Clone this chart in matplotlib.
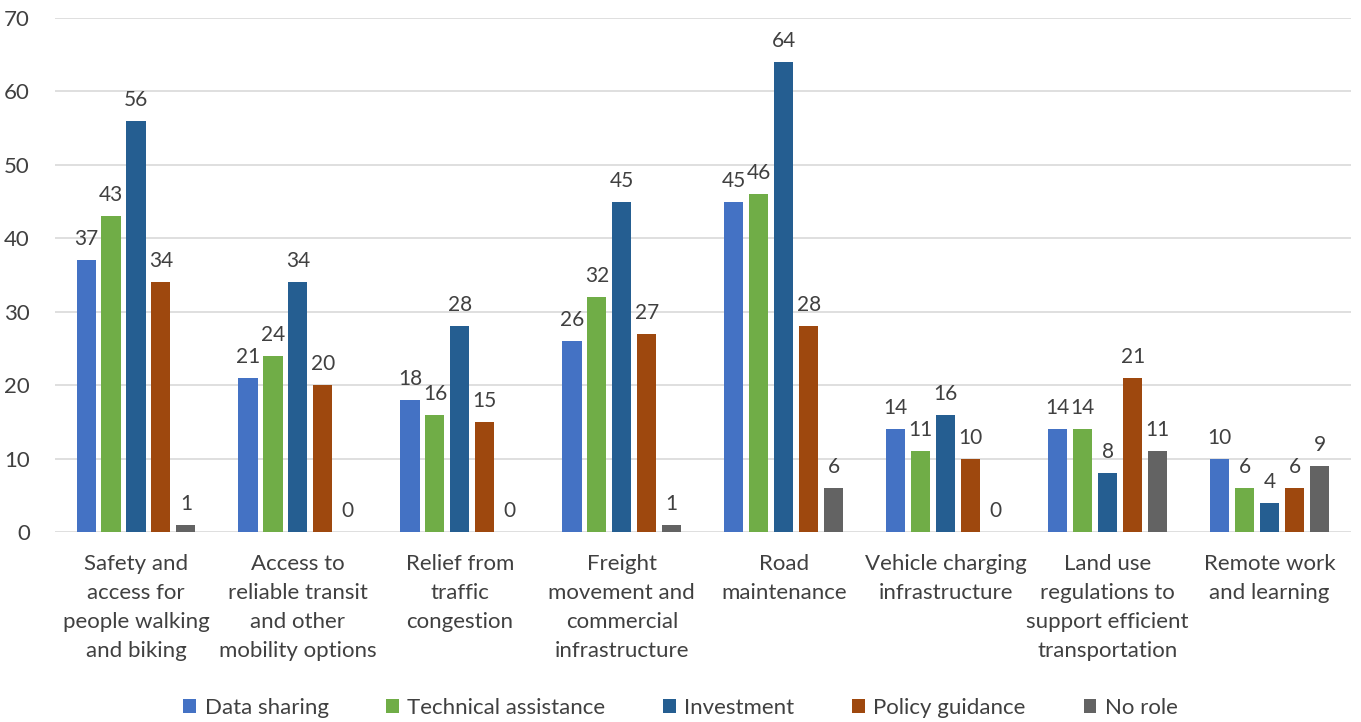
import numpy as np
import matplotlib
matplotlib.use("Agg")
import matplotlib.pyplot as plt

plt.rcParams["font.family"] = ["Lato", "DejaVu Sans"]

categories = [
    "Safety and\naccess for\npeople walking\nand biking",
    "Access to\nreliable transit\nand other\nmobility options",
    "Relief from\ntraffic\ncongestion",
    "Freight\nmovement and\ncommercial\ninfrastructure",
    "Road\nmaintenance",
    "Vehicle charging\ninfrastructure",
    "Land use\nregulations to\nsupport efficient\ntransportation",
    "Remote work\nand learning",
]
series_names = ["Data sharing", "Technical assistance", "Investment",
                "Policy guidance", "No role"]
data_sharing = [37, 21, 18, 26, 45, 14, 14, 10]
technical_assistance = [43, 24, 16, 32, 46, 11, 14, 6]
investment = [56, 34, 28, 45, 64, 16, 8, 4]
policy_guidance = [34, 20, 15, 27, 28, 10, 21, 6]
no_role = [1, 0, 0, 1, 6, 0, 11, 9]
colors = ["#4472C4", "#70AD47", "#255E91", "#9E480E", "#636363"]

values = [data_sharing, technical_assistance, investment, policy_guidance, no_role]

fig = plt.figure(figsize=(13.61, 7.22), dpi=100)
ax = fig.add_axes([0.0404, 0.263, 0.952, 0.712])

x = np.arange(len(categories))
step = 0.154
width = 0.118
for i, (name, vals, c) in enumerate(zip(series_names, values, colors)):
    pos = x + (i - 2) * step
    bars = ax.bar(pos, vals, width, color=c, label=name, zorder=3)
    ax.bar_label(bars, padding=8, fontsize=15, color="#404040")

ax.set_ylim(0, 70)
ax.set_xlim(-0.5, len(categories) - 0.5)
ax.set_yticks(range(0, 71, 10))
ax.yaxis.grid(True, color="#D9D9D9", linewidth=1.2, zorder=0)
ax.set_axisbelow(True)
for s in ax.spines.values():
    s.set_visible(False)
ax.tick_params(axis="both", length=0, labelsize=16, colors="#404040")
ax.tick_params(axis="y", pad=18)
ax.set_xticks(x)
ax.set_xticklabels(categories, linespacing=1.55)
ax.tick_params(axis="x", pad=16)

leg = fig.legend(loc="lower center", bbox_to_anchor=(0.5, -0.022), ncol=5,
                 frameon=False, fontsize=16, handlelength=0.55, handleheight=0.55,
                 handletextpad=0.4, columnspacing=2.6)
for t in leg.get_texts():
    t.set_color("#404040")

fig.savefig("out.png", dpi=100)
